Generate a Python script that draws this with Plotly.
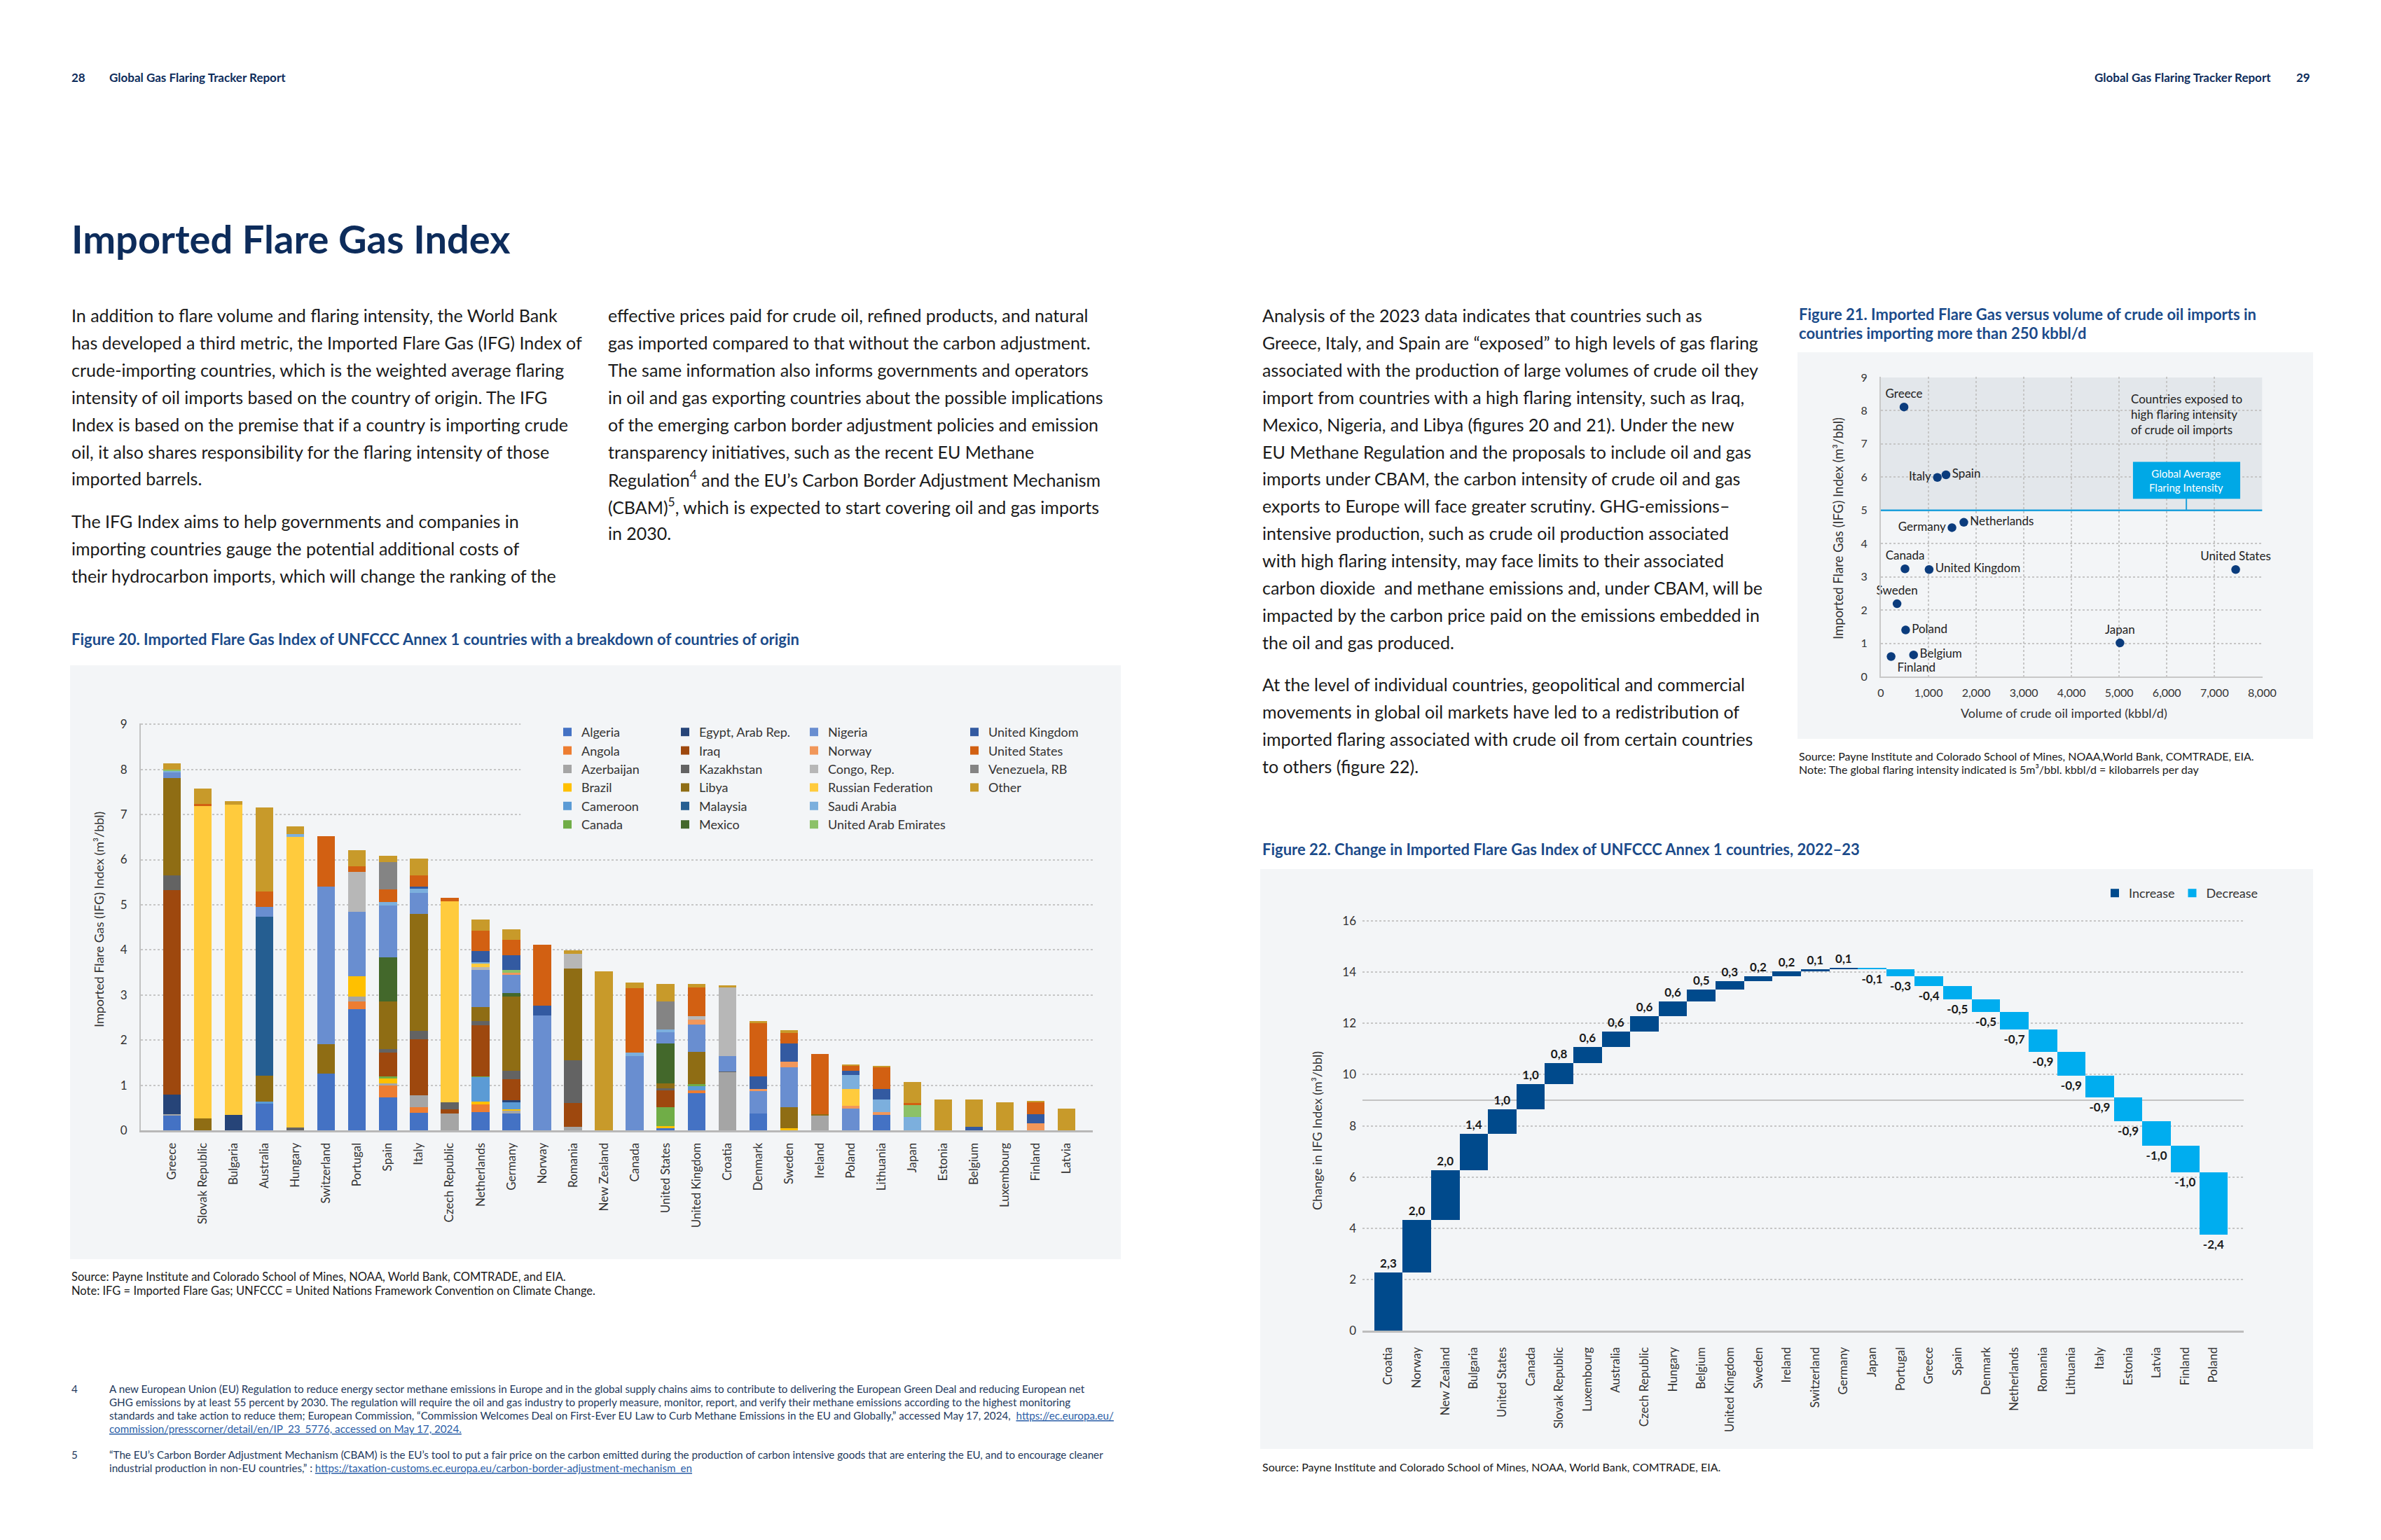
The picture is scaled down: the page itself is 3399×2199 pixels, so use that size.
import plotly.graph_objects as go
import numpy as np

W, H = 3399, 2199
FONT = "Lato, 'Open Sans', sans-serif"
NAVY = "#0d2c5b"
CAPTION = "#1b4b8a"
BODY = "#1a1a1a"
PANEL = "#f3f5f7"

# ---------------- Figure 20 data ----------------
countries_20 = ["Greece", "Slovak Republic", "Bulgaria", "Australia", "Hungary", "Switzerland",
                "Portugal", "Spain", "Italy", "Czech Republic", "Netherlands", "Germany", "Norway",
                "Romania", "New Zealand", "Canada", "United States", "United Kingdom", "Croatia",
                "Denmark", "Sweden", "Ireland", "Poland", "Lithuania", "Japan", "Estonia",
                "Belgium", "Luxembourg", "Finland", "Latvia"]
#              Gre   Slo   Bul   Aus   Hun   Swi   Por   Spa   Ita   Cze   Net   Ger   Nor   Rom   NZ    Can   US    UK    Cro   Den   Swe   Ire   Pol   Lit   Jap   Est   Bel   Lux   Fin   Lat
algeria    = [0.33, 0,    0,    0.60, 0,    1.25, 2.69, 0.73, 0.39, 0,    0.40, 0.37, 0,    0,    0,    0,    0.05, 0.83, 0,    0.37, 0,    0,    0,    0.34, 0,    0,    0,    0,    0,    0]
angola     = [0,    0,    0,    0,    0,    0,    0.17, 0.27, 0.12, 0,    0.17, 0,    0,    0,    0,    0,    0,    0.05, 0,    0,    0,    0,    0,    0,    0,    0,    0,    0,    0,    0]
azerbaijan = [0.03, 0,    0,    0,    0,    0,    0.11, 0.04, 0.27, 0.37, 0,    0.07, 0,    0.07, 0,    0,    0,    0,    1.29, 0,    0,    0.34, 0,    0,    0,    0,    0,    0,    0,    0]
brazil     = [0,    0,    0,    0,    0,    0,    0.45, 0.11, 0,    0,    0.06, 0.03, 0,    0,    0,    0,    0.04, 0,    0,    0,    0.04, 0,    0,    0,    0,    0,    0,    0,    0,    0]
cameroon   = [0,    0,    0,    0.03, 0,    0,    0,    0,    0,    0,    0.55, 0.15, 0,    0,    0,    0,    0,    0.10, 0,    0,    0,    0,    0,    0,    0,    0,    0,    0,    0,    0]
canada     = [0,    0,    0,    0,    0,    0,    0,    0.04, 0,    0,    0.02, 0,    0,    0,    0,    0,    0.42, 0.05, 0,    0,    0,    0,    0,    0,    0,    0,    0,    0,    0,    0]
egypt      = [0.43, 0,    0.34, 0,    0,    0,    0,    0,    0,    0,    0,    0.04, 0,    0,    0,    0,    0,    0,    0,    0,    0,    0,    0,    0,    0,    0,    0,    0,    0,    0]
iraq       = [4.53, 0,    0,    0,    0,    0,    0,    0.54, 1.24, 0.09, 1.13, 0.47, 0,    0.54, 0,    0,    0.39, 0,    0,    0,    0,    0,    0,    0,    0,    0,    0,    0,    0,    0]
kazakhstan = [0.33, 0,    0,    0,    0.06, 0,    0,    0.07, 0.18, 0.16, 0.09, 0.19, 0,    0.95, 0,    0,    0.03, 0,    0.02, 0,    0,    0,    0,    0,    0,    0,    0,    0,    0,    0]
libya      = [2.16, 0.26, 0,    0.58, 0,    0.66, 0,    1.06, 2.59, 0,    0.31, 1.64, 0,    2.02, 0,    0,    0.11, 0.71, 0,    0,    0.48, 0.02, 0,    0,    0,    0,    0,    0,    0,    0]
malaysia   = [0,    0,    0,    3.52, 0,    0,    0,    0,    0,    0,    0,    0,    0,    0,    0,    0,    0,    0,    0,    0,    0,    0,    0,    0,    0,    0,    0,    0,    0,    0]
mexico     = [0,    0,    0,    0,    0,    0,    0,    0.98, 0,    0,    0,    0.08, 0,    0,    0,    0,    0.88, 0,    0,    0,    0,    0,    0,    0,    0,    0,    0,    0,    0,    0]
nigeria    = [0.12, 0,    0,    0.23, 0,    3.50, 1.42, 1.15, 0.47, 0,    0.83, 0.40, 2.54, 0,    0,    1.64, 0.25, 0.61, 0.33, 0.50, 0.88, 0,    0.48, 0,    0,    0,    0,    0,    0,    0]
norway     = [0,    0,    0,    0,    0,    0,    0,    0,    0,    0,    0,    0.05, 0,    0,    0,    0,    0,    0.10, 0,    0.04, 0.12, 0,    0.07, 0.07, 0,    0,    0,    0,    0.15, 0]
congo      = [0,    0,    0,    0,    0,    0,    0.89, 0,    0,    0,    0.05, 0,    0,    0.33, 0,    0,    0,    0.08, 1.52, 0,    0,    0,    0,    0,    0,    0,    0,    0,    0,    0]
russia     = [0,    6.93, 6.88, 0,    6.45, 0,    0,    0,    0,    4.45, 0.08, 0,    0,    0,    0,    0,    0,    0,    0,    0,    0,    0,    0.36, 0,    0,    0,    0,    0,    0,    0]
saudi      = [0.04, 0,    0,    0,    0.06, 0,    0,    0.07, 0.09, 0,    0.04, 0,    0,    0,    0,    0.09, 0.07, 0,    0,    0,    0,    0,    0.32, 0.28, 0.29, 0,    0,    0,    0,    0]
uae        = [0.03, 0,    0,    0,    0,    0,    0,    0,    0,    0,    0,    0.06, 0,    0,    0,    0,    0,    0,    0,    0,    0,    0,    0,    0,    0.28, 0,    0,    0,    0,    0]
uk         = [0,    0,    0,    0,    0,    0,    0,    0,    0.05, 0,    0.25, 0.33, 0.22, 0,    0,    0,    0,    0,    0,    0.29, 0.40, 0,    0.09, 0.22, 0,    0,    0.07, 0,    0.21, 0]
us         = [0,    0.05, 0,    0.33, 0,    1.11, 0.12, 0.28, 0.25, 0.08, 0.44, 0.35, 1.35, 0,    0,    1.42, 0,    0.63, 0,    1.19, 0.24, 1.33, 0.11, 0.49, 0.03, 0,    0,    0,    0.27, 0]
venezuela  = [0,    0,    0,    0,    0,    0,    0,    0.61, 0,    0,    0,    0,    0,    0,    0,    0,    0.61, 0,    0,    0,    0,    0,    0,    0,    0,    0,    0,    0,    0,    0]
other      = [0.13, 0.33, 0.08, 1.86, 0.17, 0,    0.36, 0.14, 0.37, 0,    0.26, 0.23, 0,    0.08, 3.53, 0.12, 0.40, 0.08, 0.05, 0.03, 0.06, 0,    0.02, 0.02, 0.47, 0.69, 0.61, 0.62, 0.02, 0.48]

origin_names = ["Algeria", "Angola", "Azerbaijan", "Brazil", "Cameroon", "Canada",
                "Egypt, Arab Rep.", "Iraq", "Kazakhstan", "Libya", "Malaysia", "Mexico",
                "Nigeria", "Norway", "Congo, Rep.", "Russian Federation", "Saudi Arabia", "United Arab Emirates",
                "United Kingdom", "United States", "Venezuela, RB", "Other"]
origin_values = [algeria, angola, azerbaijan, brazil, cameroon, canada,
                 egypt, iraq, kazakhstan, libya, malaysia, mexico,
                 nigeria, norway, congo, russia, saudi, uae,
                 uk, us, venezuela, other]
origin_colors = ["#4472C4", "#ED7D31", "#A5A5A5", "#FFC000", "#5B9BD5", "#70AD47",
                 "#264478", "#9E480E", "#636363", "#8F6D14", "#255E91", "#43682B",
                 "#698ED0", "#F1975A", "#B7B7B7", "#FFCB3D", "#7CAFDD", "#8CC168",
                 "#335AA1", "#D26012", "#848484", "#C89A2A"]
legend_columns = ["legend"] * 6 + ["legend2"] * 6 + ["legend3"] * 6 + ["legend4"] * 4

# ---------------- Figure 21 data ----------------
scatter_countries = ["Greece", "Italy", "Spain", "Germany", "Netherlands", "Canada", "United Kingdom",
                     "United States", "Sweden", "Poland", "Japan", "Belgium", "Finland"]
crude_imports_kbbl = [486, 1186, 1367, 1492, 1741, 507, 1013, 7445, 340, 520, 5017, 687, 215]
ifg_index = [8.11, 5.99, 6.07, 4.48, 4.64, 3.24, 3.22, 3.22, 2.19, 1.40, 1.01, 0.65, 0.60]
label_pos = ["top center", "middle left", "middle right", "middle left", "middle right", "top center",
             "middle right", "top center", "top center", "middle right", "top center", "middle right",
             "bottom right"]
GLOBAL_AVG = 5

# ---------------- Figure 22 data ----------------
countries_22 = ["Croatia", "Norway", "New Zealand", "Bulgaria", "United States", "Canada", "Slovak Republic",
                "Luxembourg", "Australia", "Czech Republic", "Hungary", "Belgium", "United Kingdom", "Sweden",
                "Ireland", "Switzerland", "Germany", "Japan", "Portugal", "Greece", "Spain", "Denmark",
                "Netherlands", "Romania", "Lithuania", "Italy", "Estonia", "Latvia", "Finland", "Poland"]
change_22 = [2.27, 2.04, 1.96, 1.42, 0.96, 0.97, 0.82, 0.63, 0.62, 0.60, 0.58, 0.46, 0.33, 0.19,
             0.17, 0.09, 0.07, -0.07, -0.28, -0.37, -0.52, -0.50, -0.69, -0.87, -0.92, -0.86,
             -0.93, -0.96, -1.04, -2.42]
REF_LINE_22 = 9

# ---------------- helpers ----------------
def X(p):
    return p / W


def Y(p):
    return 1 - p / H


annotations = []


def txt(x, y, s, size, color=BODY, bold=False, xanchor="left", yanchor="middle", angle=0):
    annotations.append(dict(x=X(x), y=Y(y), xref="paper", yref="paper", text=s, showarrow=False,
                            xanchor=xanchor, yanchor=yanchor, textangle=angle, align="left",
                            font=dict(family=FONT, size=size, color=color,
                                      weight=700 if bold else 400)))


fig = go.Figure()

# ---- Figure 20 stacked bars ----
for name, vals, col, lg in zip(origin_names, origin_values, origin_colors, legend_columns):
    fig.add_trace(go.Bar(x=countries_20, y=vals, name=name, marker=dict(color=col, line=dict(width=0)),
                         width=0.57, xaxis="x", yaxis="y", legend=lg, showlegend=True))

# ---- Figure 21 scatter ----
fig.add_trace(go.Scatter(x=crude_imports_kbbl, y=ifg_index, text=scatter_countries, mode="markers+text",
                         textposition=label_pos, marker=dict(size=12.5, color="#0b3c7d"),
                         textfont=dict(family=FONT, size=17, color="#222"), cliponaxis=False,
                         xaxis="x2", yaxis="y2", showlegend=False))

# ---- Figure 22 floating bars (waterfall) ----
chg = np.array(change_22)
ends = np.cumsum(chg)
starts = ends - chg
labels = [f"{v:.1f}".replace(".", ",") for v in chg]
for nm, mask, col in [("Increase", chg >= 0, "#004a8c"), ("Decrease", chg < 0, "#00adef")]:
    fig.add_trace(go.Bar(x=[c for c, m in zip(countries_22, mask) if m], y=chg[mask], base=starts[mask],
                         name=nm, marker=dict(color=col, line=dict(width=0)), width=1.0,
                         text=[l for l, m in zip(labels, mask) if m], textposition="outside",
                         textangle=0, constraintext="none", cliponaxis=False,
                         textfont=dict(family=FONT, size=17, color="#1a1a1a", weight=700),
                         xaxis="x3", yaxis="y3", legend="legend5", showlegend=True))

# ---------------- shapes ----------------
shapes = []
# panels
for (x0, y0, x1, y1) in [(100, 950, 1600, 1798), (2566, 503, 3302, 1055), (1799, 1241, 3302, 2069)]:
    shapes.append(dict(type="rect", xref="paper", yref="paper", x0=X(x0), x1=X(x1), y0=Y(y1), y1=Y(y0),
                       fillcolor=PANEL, line=dict(width=0), layer="below"))
# fig 20 legend area masks gridlines
shapes.append(dict(type="rect", xref="x", yref="y", x0=11.3, x1=29.86, y0=6.5, y1=9.1,
                   fillcolor=PANEL, line=dict(width=0), layer="between"))
# fig 21 exposed region, global average line, box
shapes.append(dict(type="rect", xref="x2", yref="y2", x0=0, x1=8000, y0=GLOBAL_AVG, y1=9,
                   fillcolor="#e3e7eb", line=dict(width=0), layer="below"))
shapes.append(dict(type="line", xref="x2", yref="y2", x0=0, x1=8000, y0=GLOBAL_AVG, y1=GLOBAL_AVG,
                   line=dict(color="#1ea0db", width=2.5)))
shapes.append(dict(type="line", xref="x2", yref="y2", x0=6410, x1=6410, y0=GLOBAL_AVG, y1=GLOBAL_AVG + 0.35,
                   line=dict(color="#1ea0db", width=2)))
shapes.append(dict(type="rect", xref="x2", yref="y2", x0=5290, x1=7540, y0=GLOBAL_AVG + 0.35,
                   y1=GLOBAL_AVG + 1.46, fillcolor="#00a8e6", line=dict(width=0)))
# fig 22 reference line
shapes.append(dict(type="line", xref="x3", yref="y3", x0=-0.91, x1=30.06, y0=REF_LINE_22, y1=REF_LINE_22,
                   line=dict(color="#c3c3c3", width=2), layer="below"))

# ---------------- figure 21 annotations in data space ----------------
annotations.append(dict(x=5220, y=8.62, xref="x2", yref="y2", xanchor="left", yanchor="top", showarrow=False,
                        align="left", text="Countries exposed to<br>high flaring intensity<br>of crude oil imports",
                        font=dict(family=FONT, size=17, color="#222")))
annotations.append(dict(x=6415, y=GLOBAL_AVG + 0.905, xref="x2", yref="y2", showarrow=False,
                        text="Global Average<br>Flaring Intensity",
                        font=dict(family=FONT, size=15, color="white")))

# ---------------- page text ----------------
txt(100, 110, "28", 17, NAVY, True)
txt(154, 110, "Global Gas Flaring Tracker Report", 17, NAVY, True)
txt(3244, 110, "Global Gas Flaring Tracker Report", 17, NAVY, True, xanchor="right")
txt(3300, 110, "29", 17, NAVY, True, xanchor="right")
txt(100, 340, "Imported Flare Gas Index", 56, NAVY, True)

col1a = ["In addition to flare volume and flaring intensity, the World Bank",
         "has developed a third metric, the Imported Flare Gas (IFG) Index of",
         "crude-importing countries, which is the weighted average flaring",
         "intensity of oil imports based on the country of origin. The IFG",
         "Index is based on the premise that if a country is importing crude",
         "oil, it also shares responsibility for the flaring intensity of those",
         "imported barrels."]
col1b = ["The IFG Index aims to help governments and companies in",
         "importing countries gauge the potential additional costs of",
         "their hydrocarbon imports, which will change the ranking of the"]
col2 = ["effective prices paid for crude oil, refined products, and natural",
        "gas imported compared to that without the carbon adjustment.",
        "The same information also informs governments and operators",
        "in oil and gas exporting countries about the possible implications",
        "of the emerging carbon border adjustment policies and emission",
        "transparency initiatives, such as the recent EU Methane",
        "Regulation<sup>4</sup> and the EU’s Carbon Border Adjustment Mechanism",
        "(CBAM)<sup>5</sup>, which is expected to start covering oil and gas imports",
        "in 2030."]
right1 = ["Analysis of the 2023 data indicates that countries such as",
          "Greece, Italy, and Spain are “exposed” to high levels of gas flaring",
          "associated with the production of large volumes of crude oil they",
          "import from countries with a high flaring intensity, such as Iraq,",
          "Mexico, Nigeria, and Libya (figures 20 and 21). Under the new",
          "EU Methane Regulation and the proposals to include oil and gas",
          "imports under CBAM, the carbon intensity of crude oil and gas",
          "exports to Europe will face greater scrutiny. GHG-emissions–",
          "intensive production, such as crude oil production associated",
          "with high flaring intensity, may face limits to their associated",
          "carbon dioxide  and methane emissions and, under CBAM, will be",
          "impacted by the carbon price paid on the emissions embedded in",
          "the oil and gas produced."]
right2 = ["At the level of individual countries, geopolitical and commercial",
          "movements in global oil markets have led to a redistribution of",
          "imported flaring associated with crude oil from certain countries",
          "to others (figure 22)."]
LS = 38.9
BODY_SIZE = 25
for i, s in enumerate(col1a):
    txt(100, 450 + LS * i, s, BODY_SIZE)
for i, s in enumerate(col1b):
    txt(100, 744 + LS * i, s, BODY_SIZE)
for i, s in enumerate(col2):
    txt(866, 450 + LS * i, s, BODY_SIZE)
for i, s in enumerate(right1):
    txt(1800, 450 + LS * i, s, BODY_SIZE)
for i, s in enumerate(right2):
    txt(1800, 977 + LS * i, s, BODY_SIZE)

# captions
txt(100, 912, "Figure 20. Imported Flare Gas Index of UNFCCC Annex 1 countries with a breakdown of countries of origin",
    22, CAPTION, True)
txt(2566, 449, "Figure 21. Imported Flare Gas versus volume of crude oil imports in", 22, CAPTION, True)
txt(2566, 476, "countries importing more than 250 kbbl/d", 22, CAPTION, True)
txt(1800, 1212, "Figure 22. Change in Imported Flare Gas Index of UNFCCC Annex 1 countries, 2022–23", 22, CAPTION, True)

# sources and notes
txt(100, 1823, "Source: Payne Institute and Colorado School of Mines, NOAA, World Bank, COMTRADE, and EIA.", 16.5)
txt(100, 1843, "Note: IFG = Imported Flare Gas; UNFCCC = United Nations Framework Convention on Climate Change.", 16.5)
txt(2566, 1079, "Source: Payne Institute and Colorado School of Mines, NOAA,World Bank, COMTRADE, EIA.", 16)
txt(2566, 1098, "Note: The global flaring intensity indicated is 5m³/bbl. kbbl/d = kilobarrels per day", 16)
txt(1800, 2094, "Source: Payne Institute and Colorado School of Mines, NOAA, World Bank, COMTRADE, EIA.", 16)

# axis titles
txt(141, 1313, "Imported Flare Gas (IFG) Index (m³/bbl)", 18, "#333", xanchor="center", angle=-90)
txt(2624, 755, "Imported Flare Gas (IFG) Index (m³/bbl)", 18.5, "#333", xanchor="center", angle=-90)
txt(2946, 1018, "Volume of crude oil imported (kbbl/d)", 18, "#333", xanchor="center")
txt(1880, 1615, "Change in IFG Index (m³/bbl)", 18, "#333", xanchor="center", angle=-90)

# footnotes
FN = "#23395d"
LINK = "#2b5ea7"
fn4 = ["A new European Union (EU) Regulation to reduce energy sector methane emissions in Europe and in the global supply chains aims to contribute to delivering the European Green Deal and reducing European net",
       "GHG emissions by at least 55 percent by 2030. The regulation will require the oil and gas industry to properly measure, monitor, report, and verify their methane emissions according to the highest monitoring",
       "standards and take action to reduce them; European Commission, “Commission Welcomes Deal on First-Ever EU Law to Curb Methane Emissions in the EU and Globally,” accessed May 17, 2024,  "
       f"<span style='color:{LINK}'><u>https://ec.europa.eu/</u></span>",
       f"<span style='color:{LINK}'><u>commission/presscorner/detail/en/IP_23_5776, accessed on May 17, 2024.</u></span>"]
fn5 = ["“The EU’s Carbon Border Adjustment Mechanism (CBAM) is the EU’s tool to put a fair price on the carbon emitted during the production of carbon intensive goods that are entering the EU, and to encourage cleaner",
       f"industrial production in non-EU countries,” : <span style='color:{LINK}'><u>https://taxation-customs.ec.europa.eu/carbon-border-adjustment-mechanism_en</u></span>"]
FN_SIZE = 15.2
txt(100, 1983, "4", FN_SIZE, FN)
for i, s in enumerate(fn4):
    txt(154, 1983 + 19 * i, s, FN_SIZE, FN)
txt(100, 2077, "5", FN_SIZE, FN)
for i, s in enumerate(fn5):
    txt(154, 2077 + 19 * i, s, FN_SIZE, FN)

# ---------------- legends ----------------
def leg(xpx, ytop, size=18, orient="v"):
    return dict(x=X(xpx), y=Y(ytop), xanchor="left", yanchor="top", orientation=orient,
                bgcolor="rgba(0,0,0,0)", borderwidth=0, traceorder="normal",
                font=dict(family=FONT, size=size, color="#333"), itemclick=False, itemdoubleclick=False)


grid = dict(showgrid=True, gridcolor="#c6c6c6", griddash="dot", gridwidth=1.5)
tickf = dict(family=FONT, size=17, color="#333")

fig.update_layout(
    width=W, height=H, margin=dict(l=0, r=0, t=0, b=0, pad=0), template="none",
    paper_bgcolor="white", plot_bgcolor="rgba(0,0,0,0)", barmode="stack",
    font=dict(family=FONT, color="#222"), showlegend=True,
    xaxis=dict(domain=[X(201), X(1560)], anchor="y", type="category", categoryorder="array",
               categoryarray=countries_20, range=[-1.02, 29.86], tickangle=-90, tickfont=tickf,
               showgrid=False, zeroline=False, showline=True, linecolor="#b8b8b8", linewidth=3,
               ticks="", ticklabelstandoff=8),
    yaxis=dict(domain=[Y(1614), Y(1033)], anchor="x", range=[0, 9.02], dtick=1, tickfont=tickf,
               zeroline=False, showline=True, linecolor="#c2c2c2", linewidth=2, ticks="",
               ticklabelstandoff=14, **grid),
    xaxis2=dict(domain=[X(2685), X(3230)], anchor="y2", range=[0, 8010], dtick=1000, tickformat=",",
                tickfont=dict(family=FONT, size=16, color="#333"), zeroline=False, showline=True,
                linecolor="#c8c8c8", linewidth=2, ticks="", ticklabelstandoff=8, **grid),
    yaxis2=dict(domain=[Y(966), Y(538)], anchor="x2", range=[0, 9.02], dtick=1,
                tickfont=dict(family=FONT, size=16, color="#333"), zeroline=False, showline=True,
                linecolor="#c8c8c8", linewidth=2, ticks="", ticklabelstandoff=14, **grid),
    xaxis3=dict(domain=[X(1945), X(3203)], anchor="y3", type="category", categoryorder="array",
                categoryarray=countries_22, range=[-0.91, 30.06], tickangle=-90, tickfont=tickf,
                showgrid=False, zeroline=False, showline=True, linecolor="#bdbdbd", linewidth=2.5,
                ticks="", ticklabelstandoff=14),
    yaxis3=dict(domain=[Y(1900), Y(1314)], anchor="x3", range=[0, 16.03], tickvals=list(range(0, 17, 2)),
                tickfont=tickf, zeroline=False, showline=False, ticks="", ticklabelstandoff=8, **grid),
    legend=leg(790, 1027), legend2=leg(958, 1027), legend3=leg(1142, 1027), legend4=leg(1371, 1027),
    legend5=leg(2999, 1257, orient="h"),
    shapes=shapes, annotations=annotations,
)

fig.write_html("out.html")
